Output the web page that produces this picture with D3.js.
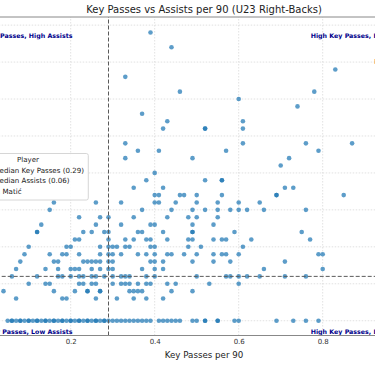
<!DOCTYPE html>
<html>
<head>
<meta charset="utf-8">
<script src="https://cdn.jsdelivr.net/npm/d3@7"></script>
<style>
  body { margin: 0; background: #fff; }
  svg { display: block; font-family: "DejaVu Sans", sans-serif; }
</style>
</head>
<body>
<svg width="375" height="366"></svg>
<script>
// assists per 90 levels, and the key passes per 90 of every player on that level
var assistLevels = [0.39, 0.37, 0.34, 0.33, 0.31, 0.30, 0.29, 0.28, 0.27, 0.26, 0.24, 0.23, 0.22, 0.21, 0.20, 0.19, 0.18, 0.17, 0.16, 0.15, 0.14, 0.13, 0.12, 0.11, 0.10, 0.09, 0.08, 0.07, 0.06, 0.05, 0.04, 0.03, 0.00];
var keyPassesByLevel = [
  [0.39],
  [0.44],
  [0.83],
  [0.33],
  [0.46, 0.78],
  [0.60],
  [0.74],
  [0.37],
  [0.43, 0.61],
  [0.42, 0.52, 0.52, 0.61],
  [0.33, 0.61, 0.76, 0.87],
  [0.36, 0.41, 0.57, 0.79],
  [0.33, 0.49, 0.72],
  [0.70],
  [0.40],
  [0.38, 0.52, 0.56, 0.56],
  [0.35, 0.42, 0.71, 0.73],
  [0.40, 0.41, 0.46, 0.47, 0.50, 0.56, 0.69, 0.69, 0.85],
  [0.16, 0.26, 0.32, 0.40, 0.41, 0.45, 0.50, 0.55, 0.60, 0.65],
  [0.15, 0.37, 0.44, 0.49, 0.52, 0.55, 0.58, 0.60, 0.62, 0.66, 0.76],
  [0.22, 0.27, 0.29, 0.35, 0.43, 0.48, 0.50, 0.55],
  [0.13, 0.26, 0.32, 0.39, 0.40, 0.49, 0.54],
  [0.12, 0.12, 0.23, 0.25, 0.28, 0.29, 0.36, 0.37, 0.42, 0.49, 0.49, 0.59, 0.75],
  [0.21, 0.22, 0.29, 0.33, 0.35, 0.38, 0.39, 0.43, 0.48, 0.49, 0.54, 0.56, 0.57, 0.63, 0.77],
  [0.10, 0.19, 0.20, 0.27, 0.29, 0.30, 0.31, 0.33, 0.34, 0.39, 0.40, 0.48, 0.51, 0.61],
  [0.09, 0.15, 0.18, 0.19, 0.22, 0.27, 0.29, 0.30, 0.32, 0.36, 0.38, 0.40, 0.43, 0.44, 0.47, 0.50, 0.54, 0.56, 0.57, 0.60, 0.79, 0.80],
  [0.08, 0.16, 0.17, 0.23, 0.24, 0.25, 0.26, 0.27, 0.29, 0.30, 0.39, 0.40, 0.42, 0.49, 0.54, 0.58, 0.71],
  [0.07, 0.14, 0.17, 0.20, 0.21, 0.22, 0.25, 0.27, 0.29, 0.30, 0.37, 0.40, 0.42, 0.66, 0.80],
  [0.06, 0.12, 0.17, 0.18, 0.20, 0.22, 0.23, 0.25, 0.26, 0.28, 0.30, 0.32, 0.33, 0.34, 0.38, 0.40, 0.50, 0.57, 0.58, 0.60, 0.62, 0.65, 0.71, 0.76],
  [0.10, 0.14, 0.15, 0.22, 0.23, 0.25, 0.26, 0.30, 0.32, 0.33, 0.34, 0.36, 0.38, 0.39, 0.43, 0.45, 0.53, 0.60],
  [0.04, 0.16, 0.21, 0.24, 0.24, 0.27, 0.27, 0.34, 0.35, 0.36, 0.37, 0.44, 0.49],
  [0.07, 0.18, 0.19, 0.26, 0.31, 0.35, 0.38, 0.42],
  [0.05, 0.06, 0.07, 0.08, 0.09, 0.10, 0.11, 0.12, 0.13, 0.14, 0.15, 0.16, 0.17, 0.18, 0.19, 0.20,
   0.21, 0.22, 0.23, 0.24, 0.25, 0.26, 0.27, 0.28, 0.29, 0.30, 0.31, 0.32, 0.33, 0.34, 0.35, 0.36,
   0.37, 0.38, 0.39, 0.41, 0.42, 0.43, 0.44, 0.45, 0.46, 0.49, 0.50, 0.52, 0.52, 0.55, 0.55, 0.59,
   0.60, 0.69, 0.73, 0.76, 0.79,
   0.06, 0.08, 0.10, 0.12, 0.14, 0.16, 0.18, 0.20, 0.22, 0.24, 0.26, 0.28]
];

var medianKeyPasses = 0.29;
var medianAssists = 0.06;
var highlight = { name: "E. Matić", keyPasses: 0.96, assists: 0.34 };

var xTicks = [0.2, 0.4, 0.6, 0.8];
var xGrid = [0, 0.2, 0.4, 0.6, 0.8, 1.0];
var yGrid = [0, 0.05, 0.10, 0.15, 0.20, 0.25, 0.30, 0.35, 0.40];

var quadrantLabels = ["Low Key Passes, High Assists", "High Key Passes, High Assists",
  "Low Key Passes, Low Assists", "High Key Passes, Low Assists"];

// flatten rows into points
var points = [];
assistLevels.forEach(function (a, i) {
  keyPassesByLevel[i].forEach(function (k) {
    points.push({ kp: k, ast: a });
  });
});

var svg = d3.select("svg");

// the axes run past the picture on the left and right
var x = d3.scaleLinear().domain([-0.05, 1.085]).range([-34.3, 442.4]);
var y = d3.scaleLinear().domain([-0.02, 0.411]).range([335.5, 17]);
var left = x.range()[0], right = x.range()[1];

svg.append("defs").append("clipPath").attr("id", "plot")
  .append("rect")
  .attr("x", left).attr("y", y.range()[1])
  .attr("width", right - left).attr("height", y.range()[0] - y.range()[1]);

// title
svg.append("text")
  .attr("x", (left + right) / 2)
  .attr("y", 12.5)
  .attr("text-anchor", "middle")
  .attr("font-size", "10px")
  .attr("fill", "#222")
  .text("Key Passes vs Assists per 90 (U23 Right-Backs)");

// grid
var grid = svg.append("g").attr("clip-path", "url(#plot)");
grid.selectAll(".vg").data(xGrid).enter().append("line")
  .attr("x1", function (d) { return x(d); }).attr("x2", function (d) { return x(d); })
  .attr("y1", y.range()[0]).attr("y2", y.range()[1])
  .attr("stroke", "#d9d9d9").attr("stroke-width", 0.8).attr("stroke-dasharray", "1.5,1.5");
grid.selectAll(".hg").data(yGrid).enter().append("line")
  .attr("x1", left).attr("x2", right)
  .attr("y1", function (d) { return y(d); }).attr("y2", function (d) { return y(d); })
  .attr("stroke", "#d9d9d9").attr("stroke-width", 0.8).attr("stroke-dasharray", "1.5,1.5");

// points
var dots = svg.append("g").attr("clip-path", "url(#plot)");
dots.selectAll("circle").data(points).enter().append("circle")
  .attr("cx", function (d) { return x(d.kp); })
  .attr("cy", function (d) { return y(d.ast); })
  .attr("r", 2.3)
  .attr("fill", "#1f77b4")
  .attr("fill-opacity", 0.72);

// medians
dots.append("line")
  .attr("x1", x(medianKeyPasses)).attr("x2", x(medianKeyPasses))
  .attr("y1", y.range()[0]).attr("y2", y.range()[1])
  .attr("stroke", "#5a5a5a").attr("stroke-width", 1).attr("stroke-dasharray", "4,2");
dots.append("line")
  .attr("x1", left).attr("x2", right)
  .attr("y1", y(medianAssists)).attr("y2", y(medianAssists))
  .attr("stroke", "#5a5a5a").attr("stroke-width", 1).attr("stroke-dasharray", "4,2");

// highlighted player
dots.append("circle")
  .attr("cx", x(highlight.keyPasses)).attr("cy", y(highlight.assists))
  .attr("r", 4).attr("fill", "red").attr("stroke", "#000").attr("stroke-width", 0.6);
svg.append("text")
  .attr("x", x(highlight.keyPasses)).attr("y", y(highlight.assists) - 5)
  .attr("text-anchor", "middle")
  .attr("font-size", "7px").attr("font-weight", "bold").attr("fill", "red")
  .text(highlight.name);

// quadrant labels
quadrantLabels.forEach(function (t, i) {
  var col = i % 2, row = Math.floor(i / 2);
  svg.append("text")
    .attr("x", col ? 310.7 : 72.5)
    .attr("y", row ? 334 : 37.5)
    .attr("text-anchor", col ? "start" : "end")
    .attr("font-size", "6.3px").attr("font-weight", "bold").attr("fill", "#00008b")
    .text(t);
});

// spines
svg.append("line").attr("x1", left).attr("x2", right)
  .attr("y1", y.range()[1]).attr("y2", y.range()[1])
  .attr("stroke", "#888").attr("stroke-width", 1);
svg.append("line").attr("x1", left).attr("x2", right)
  .attr("y1", y.range()[0]).attr("y2", y.range()[0])
  .attr("stroke", "#888").attr("stroke-width", 1);

// x axis
var xAxis = svg.append("g")
  .attr("transform", "translate(0," + y.range()[0] + ")")
  .call(d3.axisBottom(x).tickValues(xTicks).tickSize(0).tickPadding(4).tickFormat(d3.format(".1f")));
xAxis.select(".domain").remove();
xAxis.selectAll("text").attr("font-size", "7px").attr("fill", "#333")
  .attr("font-family", "DejaVu Sans");

svg.append("text")
  .attr("x", (left + right) / 2)
  .attr("y", 358)
  .attr("text-anchor", "middle")
  .attr("font-size", "8.7px")
  .attr("fill", "#222")
  .text("Key Passes per 90");

// legend
var lg = svg.append("g").attr("transform", "translate(-32,153.5)");
lg.append("rect").attr("width", 120.3).attr("height", 46.5).attr("rx", 2)
  .attr("fill", "#fff").attr("fill-opacity", 0.85).attr("stroke", "#ccc").attr("stroke-width", 0.8);
lg.append("text").attr("x", 60).attr("y", 8.5).attr("text-anchor", "middle")
  .attr("font-size", "7px").attr("fill", "#222").text("Player");
var legendItems = [
  "Median Key Passes (" + medianKeyPasses.toFixed(2) + ")",
  "Median Assists (" + medianAssists.toFixed(2) + ")",
  highlight.name
];
legendItems.forEach(function (t, i) {
  var ly = 19 + i * 10.5;
  if (i < 2) {
    lg.append("line").attr("x1", 4).attr("x2", 20).attr("y1", ly - 2.3).attr("y2", ly - 2.3)
      .attr("stroke", "#5a5a5a").attr("stroke-dasharray", "4,2");
  } else {
    lg.append("circle").attr("cx", 12).attr("cy", ly - 2.3).attr("r", 3).attr("fill", "red");
  }
  lg.append("text").attr("x", 25.5).attr("y", ly)
    .attr("font-size", "7.1px").attr("fill", "#222").text(t);
});
</script>
</body>
</html>
